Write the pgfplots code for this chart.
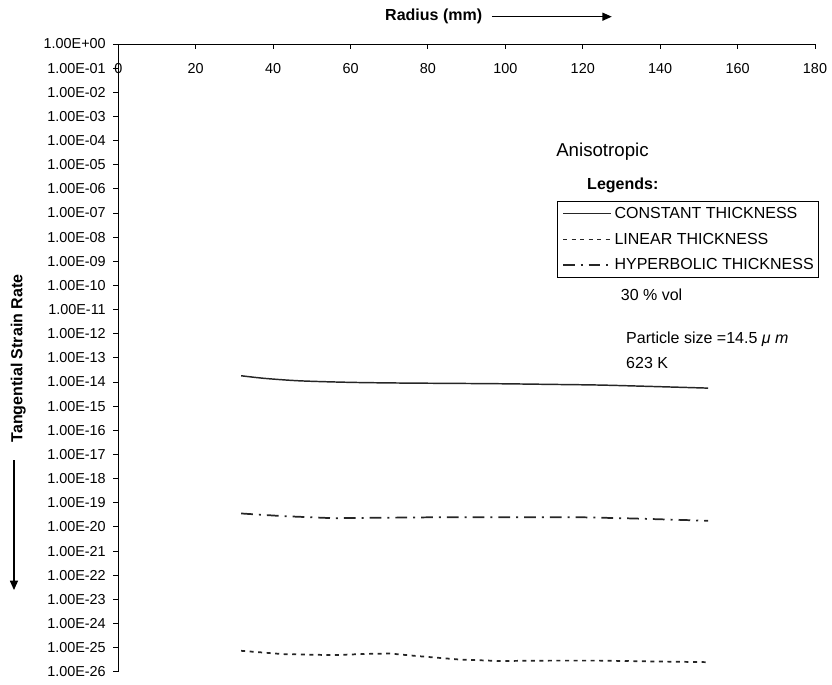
\documentclass[border=0pt]{standalone}
\usepackage{fontspec}
\setmainfont{Liberation Sans}
\usepackage{pgfplots}
\pgfplotsset{compat=1.18}
\usetikzlibrary{arrows.meta}

\pgfplotstableread{
x y
31.75 1.82e-14
38.0 1.41e-14
47.0 1.12e-14
60.0 9.7e-15
73.0 9.1e-15
86.0 8.8e-15
98.6 8.5e-15
111.5 8.0e-15
124.4 7.5e-15
137.3 6.6e-15
152.4 5.6e-15
}\constant

\pgfplotstableread{
x y
31.75 7.4e-26
42.5 5.4e-26
55.4 4.9e-26
64.2 5.5e-26
70.2 5.7e-26
77.1 4.5e-26
88.3 3.2e-26
98.6 2.8e-26
111.5 2.9e-26
124.4 2.9e-26
137.3 2.7e-26
152.4 2.5e-26
}\linear

\pgfplotstableread{
x y
31.75 3.6e-20
42.5 2.8e-20
55.4 2.3e-20
68.4 2.4e-20
81.3 2.5e-20
94.2 2.5e-20
107.1 2.5e-20
120.0 2.5e-20
132.9 2.24e-20
152.4 1.8e-20
}\hyperbolic

\begin{document}
\begin{tikzpicture}
\begin{axis}[
  name=ax,
  scale only axis,
  width=522.5pt, height=470.8pt,
  xmin=0, xmax=180,
  ymode=log, log basis y=10,
  ymin=1e-26, ymax=1,
  axis x line*=top,
  axis y line*=left,
  axis line style={line width=0.7pt, -},
  tick align=inside,
  major tick length=3.75pt,
  tick style={line width=0.7pt, black},
  ytick style={xshift=-3.75pt},
  xtick={0,20,...,180},
  ytick={1,1e-1,1e-2,1e-3,1e-4,1e-5,1e-6,1e-7,1e-8,1e-9,1e-10,1e-11,1e-12,1e-13,1e-14,1e-15,1e-16,1e-17,1e-18,1e-19,1e-20,1e-21,1e-22,1e-23,1e-24,1e-25,1e-26},
  yticklabels={1.00E+00,1.00E-01,1.00E-02,1.00E-03,1.00E-04,1.00E-05,1.00E-06,1.00E-07,1.00E-08,1.00E-09,1.00E-10,1.00E-11,1.00E-12,1.00E-13,1.00E-14,1.00E-15,1.00E-16,1.00E-17,1.00E-18,1.00E-19,1.00E-20,1.00E-21,1.00E-22,1.00E-23,1.00E-24,1.00E-25,1.00E-26},
  minor tick num=0,
  /pgf/number format/assume math mode=true,
  tick label style={font=\fontsize{10.8}{12}\selectfont},
  xticklabel style={anchor=north, inner sep=0pt, yshift=-14.5pt},
  yticklabel style={anchor=east, inner sep=0pt, xshift=-9.2pt},
  clip=false,
  legend style={
    at={(axis description cs:0.6301,0.7504)}, anchor=north west,
    draw=black, line width=0.7pt,
    font=\fontsize{12}{14}\selectfont,
    inner xsep=3.3pt, inner ysep=4.4pt,
    nodes={inner sep=0pt},
    row sep=9.5pt, column sep=2pt,
    cells={anchor=west},
  },
  legend image code/.code={\draw[#1] (0pt,0pt) -- (36pt,0pt);},
]
\addplot[black!85, line width=1.1pt, smooth] table {\constant};
\addlegendentry{CONSTANT THICKNESS}
\addplot[black!85, line width=1.3pt, dash pattern=on 3pt off 3.4pt] table {\linear};
\addlegendentry{LINEAR THICKNESS}
\addplot[black!85, line width=1.3pt, dash pattern=on 8.8pt off 4.5pt on 1.5pt off 4.5pt] table {\hyperbolic};
\addlegendentry{HYPERBOLIC THICKNESS}

\node[anchor=west, inner sep=0pt, font=\fontsize{14}{16}\selectfont] at (axis description cs:0.6283,0.8284) {Anisotropic};
\node[anchor=west, inner sep=0pt, font=\bfseries\fontsize{12}{14}\selectfont] at (axis description cs:0.6727,0.7754) {Legends:};
\node[anchor=west, inner sep=0pt, font=\fontsize{12}{14}\selectfont] at (axis description cs:0.7211,0.6001) {30 \% vol};
\node[anchor=west, inner sep=0pt, font=\fontsize{12}{14}\selectfont] at (axis description cs:0.7287,0.5296) {Particle size =14.5 \textit{μ m}};
\node[anchor=west, inner sep=0pt, font=\fontsize{12}{14}\selectfont] at (axis description cs:0.7287,0.4913) {623 K};

\node[anchor=west, inner sep=0pt, font=\bfseries\fontsize{12}{14}\selectfont] at (axis description cs:0.3828,1.0435) {Radius (mm)};
\draw[line width=1pt, -{Triangle[length=7pt,width=6pt]}] (axis description cs:0.5362,1.0435) -- (axis description cs:0.7083,1.0435);

\node[rotate=90, inner sep=0pt, font=\bfseries\fontsize{12}{14}\selectfont] at (axis description cs:-0.1435,0.4991) {Tangential Strain Rate};
\draw[line width=1pt, -{Triangle[length=7pt,width=6pt]}] (axis description cs:-0.1497,0.3373) -- (axis description cs:-0.1497,0.1302);
\end{axis}
\path (ax.south west) ++(-88.7pt,-9.2pt) coordinate (bbsw);
\path (ax.north east) ++(12.75pt,33pt) coordinate (bbne);
\path[use as bounding box] (bbsw) rectangle (bbne);
\end{tikzpicture}
\end{document}
